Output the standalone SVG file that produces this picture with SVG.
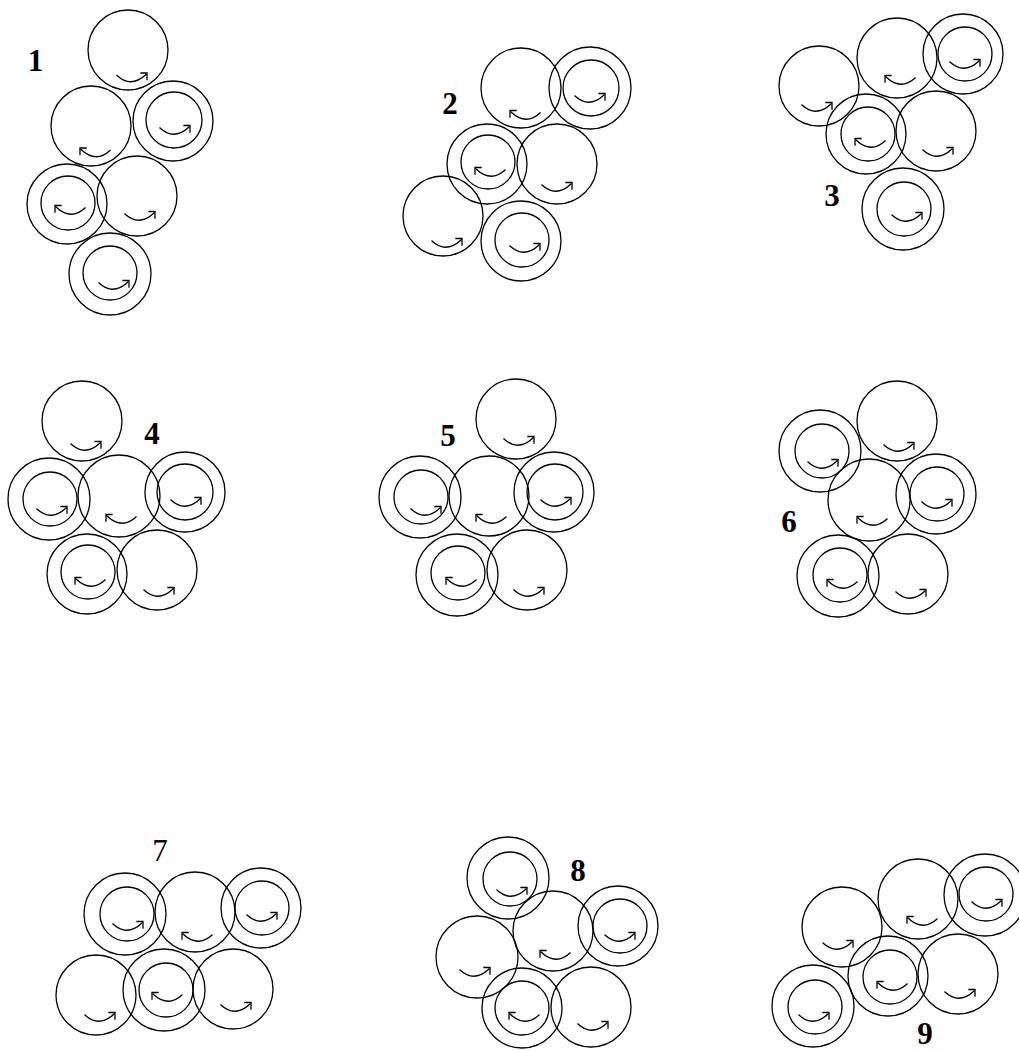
<svg xmlns="http://www.w3.org/2000/svg" xmlns:xlink="http://www.w3.org/1999/xlink" width="1019" height="1050" viewBox="0 0 1019 1050">
<style>
.c{fill:none;stroke:#000;stroke-width:1.3}
.a{fill:none;stroke:#000;stroke-width:1.3;stroke-linecap:square}
.lb{font-family:"Liberation Serif","Times New Roman",serif;font-size:31px;font-weight:bold;text-anchor:middle;fill:#000}
.ln{font-family:"Liberation Serif","Times New Roman",serif;font-size:31px;font-weight:normal;text-anchor:middle;fill:#000}
</style>
<defs>
<g id="R" class="a"><path d="M-15,-2 Q-1,11 14,-3"/><path d="M9,-4.5 H15 V2"/></g>
<g id="L" class="a"><path d="M15,-2 Q1,11 -14,-3"/><path d="M-9,-4.5 H-15 V2"/></g>
</defs>
<rect width="1019" height="1050" fill="#fff"/>
<g id="connectors"/>

<g id="set1">
<text class="lb" x="35.5" y="71">1</text>
<g id="n1a"><circle class="c" cx="128" cy="50" r="40"/><use href="#R" x="132" y="77.5"/></g>
<g id="n1b"><circle class="c" cx="91" cy="126" r="40"/><use href="#L" x="95" y="152.5"/></g>
<g id="n1c"><circle class="c" cx="173" cy="121" r="40"/><circle class="c" cx="174" cy="120" r="28"/><use href="#R" x="175" y="130"/></g>
<g id="n1d"><circle class="c" cx="67" cy="204" r="40"/><circle class="c" cx="68" cy="203" r="27"/><use href="#L" x="70" y="210"/></g>
<g id="n1e"><circle class="c" cx="137" cy="196" r="40"/><use href="#R" x="140" y="216"/></g>
<g id="n1f"><circle class="c" cx="110" cy="274" r="41"/><circle class="c" cx="110" cy="273" r="27"/><use href="#R" x="114" y="285"/></g>
</g>

<g id="set2">
<text class="lb" x="450" y="114">2</text>
<g id="n2a"><circle class="c" cx="521" cy="88" r="40"/><use href="#L" x="525" y="115"/></g>
<g id="n2b"><circle class="c" cx="590" cy="88" r="41"/><circle class="c" cx="591" cy="88" r="28"/><use href="#R" x="590" y="98"/></g>
<g id="n2c"><circle class="c" cx="487" cy="164" r="40"/><circle class="c" cx="488" cy="162" r="27"/><use href="#L" x="490" y="172"/></g>
<g id="n2d"><circle class="c" cx="557" cy="164" r="40"/><use href="#R" x="557" y="187"/></g>
<g id="n2e"><circle class="c" cx="443" cy="216" r="40"/><use href="#R" x="447" y="243"/></g>
<g id="n2f"><circle class="c" cx="521" cy="241" r="40"/><circle class="c" cx="522" cy="240" r="27"/><use href="#R" x="525" y="248"/></g>
</g>

<g id="set3">
<text class="lb" x="832" y="206">3</text>
<g id="n3a"><circle class="c" cx="819" cy="86" r="40"/><use href="#R" x="817" y="107"/></g>
<g id="n3b"><circle class="c" cx="897" cy="58" r="40"/><use href="#L" x="900" y="80"/></g>
<g id="n3c"><circle class="c" cx="963" cy="54" r="40"/><circle class="c" cx="965" cy="54" r="27"/><use href="#R" x="965" y="64"/></g>
<g id="n3d"><circle class="c" cx="866" cy="134" r="40"/><circle class="c" cx="868" cy="134" r="27"/><use href="#L" x="870" y="143"/></g>
<g id="n3e"><circle class="c" cx="936" cy="131" r="40"/><use href="#R" x="938" y="152"/></g>
<g id="n3f"><circle class="c" cx="903" cy="209" r="41"/><circle class="c" cx="904" cy="209" r="27"/><use href="#R" x="907" y="217"/></g>
</g>

<g id="set4">
<text class="lb" x="152" y="444">4</text>
<g id="n4a"><circle class="c" cx="82" cy="421" r="40"/><use href="#R" x="86" y="446"/></g>
<g id="n4b"><circle class="c" cx="49" cy="499" r="41"/><circle class="c" cx="50" cy="499" r="27"/><use href="#R" x="52" y="511"/></g>
<g id="n4c"><circle class="c" cx="119" cy="496" r="41"/><use href="#L" x="121" y="519"/></g>
<g id="n4d"><circle class="c" cx="185" cy="492" r="40"/><circle class="c" cx="185" cy="492" r="28"/><use href="#R" x="186" y="502"/></g>
<g id="n4e"><circle class="c" cx="87" cy="574" r="40"/><circle class="c" cx="88" cy="572" r="27"/><use href="#L" x="90" y="582"/></g>
<g id="n4f"><circle class="c" cx="157" cy="570" r="40"/><use href="#R" x="159" y="592"/></g>
</g>

<g id="set5">
<text class="lb" x="448" y="446">5</text>
<g id="n5a"><circle class="c" cx="516" cy="419" r="40"/><use href="#R" x="519" y="441"/></g>
<g id="n5b"><circle class="c" cx="420" cy="497" r="41"/><circle class="c" cx="421" cy="497" r="27"/><use href="#R" x="426" y="511"/></g>
<g id="n5c"><circle class="c" cx="489" cy="496" r="40"/><use href="#L" x="491" y="519"/></g>
<g id="n5d"><circle class="c" cx="554" cy="492" r="40"/><circle class="c" cx="555" cy="492" r="28"/><use href="#R" x="556" y="502"/></g>
<g id="n5e"><circle class="c" cx="457" cy="575" r="41"/><circle class="c" cx="458" cy="573" r="27"/><use href="#L" x="461" y="582"/></g>
<g id="n5f"><circle class="c" cx="527" cy="570" r="40"/><use href="#R" x="529" y="592"/></g>
</g>

<g id="set6">
<text class="lb" x="789" y="532">6</text>
<g id="n6a"><circle class="c" cx="897" cy="421" r="40"/><use href="#R" x="899" y="447"/></g>
<g id="n6b"><circle class="c" cx="820" cy="451" r="41"/><circle class="c" cx="822" cy="451" r="27"/><use href="#R" x="823" y="464"/></g>
<g id="n6c"><circle class="c" cx="869" cy="500" r="41"/><use href="#L" x="872" y="521"/></g>
<g id="n6d"><circle class="c" cx="936" cy="494" r="40"/><circle class="c" cx="937" cy="494" r="27"/><use href="#R" x="937" y="504"/></g>
<g id="n6e"><circle class="c" cx="838" cy="576" r="41"/><circle class="c" cx="840" cy="575" r="27"/><use href="#L" x="842" y="584"/></g>
<g id="n6f"><circle class="c" cx="908" cy="574" r="40"/><use href="#R" x="911" y="594"/></g>
</g>

<g id="set7">
<text class="ln" x="160" y="861">7</text>
<g id="n7a"><circle class="c" cx="125" cy="914" r="41"/><circle class="c" cx="127" cy="914" r="27"/><use href="#R" x="128" y="926"/></g>
<g id="n7b"><circle class="c" cx="195" cy="912" r="40"/><use href="#L" x="197" y="937"/></g>
<g id="n7c"><circle class="c" cx="261" cy="908" r="40"/><circle class="c" cx="262" cy="908" r="27"/><use href="#R" x="262" y="917"/></g>
<g id="n7d"><circle class="c" cx="96" cy="995" r="40"/><use href="#R" x="100" y="1017"/></g>
<g id="n7e"><circle class="c" cx="164" cy="990" r="41"/><circle class="c" cx="166" cy="990" r="27"/><use href="#L" x="167" y="997"/></g>
<g id="n7f"><circle class="c" cx="233" cy="989" r="40"/><use href="#R" x="236" y="1007"/></g>
</g>

<g id="set8">
<text class="lb" x="578" y="881">8</text>
<g id="n8a"><circle class="c" cx="508" cy="878" r="41"/><circle class="c" cx="510" cy="879" r="27"/><use href="#R" x="512" y="892"/></g>
<g id="n8b"><circle class="c" cx="553" cy="931" r="40"/><use href="#L" x="555" y="955"/></g>
<g id="n8c"><circle class="c" cx="618" cy="926" r="40"/><circle class="c" cx="620" cy="926" r="27"/><use href="#R" x="620" y="937"/></g>
<g id="n8d"><circle class="c" cx="477" cy="957" r="41"/><use href="#R" x="475" y="972"/></g>
<g id="n8e"><circle class="c" cx="522" cy="1008" r="40"/><circle class="c" cx="522" cy="1008" r="27"/><use href="#L" x="524" y="1017"/></g>
<g id="n8f"><circle class="c" cx="591" cy="1007" r="40"/><use href="#R" x="593" y="1026"/></g>
</g>

<g id="set9">
<text class="lb" x="925" y="1044">9</text>
<g id="n9a"><circle class="c" cx="918" cy="899" r="40"/><use href="#L" x="922" y="921"/></g>
<g id="n9b"><circle class="c" cx="985" cy="895" r="41"/><circle class="c" cx="986" cy="894" r="27"/><use href="#R" x="987" y="904"/></g>
<g id="n9c"><circle class="c" cx="842" cy="927" r="40"/><use href="#R" x="838" y="945"/></g>
<g id="n9d"><circle class="c" cx="888" cy="976" r="40"/><circle class="c" cx="890" cy="977" r="27"/><use href="#L" x="892" y="986"/></g>
<g id="n9e"><circle class="c" cx="958" cy="974" r="40"/><use href="#R" x="960" y="994"/></g>
<g id="n9f"><circle class="c" cx="813" cy="1006" r="41"/><circle class="c" cx="815" cy="1007" r="27"/><use href="#R" x="814" y="1017"/></g>
</g>
</svg>
